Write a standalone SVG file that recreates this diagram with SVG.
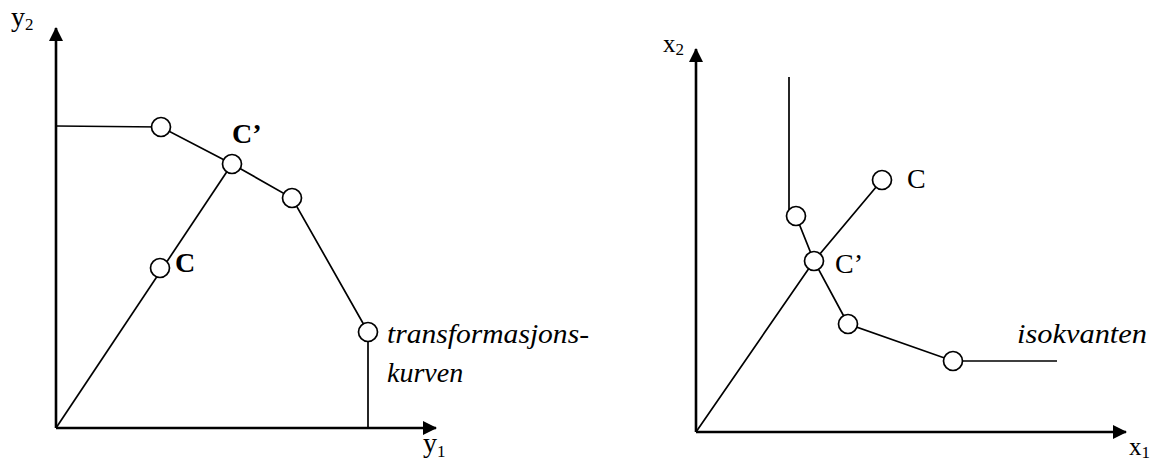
<svg xmlns="http://www.w3.org/2000/svg" width="1162" height="464" viewBox="0 0 1162 464">
<style>
.ax{stroke:#000;stroke-width:2.6;fill:none}
.ln{stroke:#000;stroke-width:1.7;fill:none}
.pt{fill:#fff;stroke:#000;stroke-width:1.7}
.t{font-family:'Liberation Serif','Times New Roman','DejaVu Serif',serif;fill:#000}
.b{font-weight:bold}
.i{font-style:italic}
</style>
<defs>
<marker id="ah" viewBox="0 0 14 14" refX="13" refY="7" markerWidth="14" markerHeight="14" markerUnits="userSpaceOnUse" orient="auto">
<path d="M0,0 L14,7 L0,14 Z" fill="#000"/>
</marker>
</defs>
<g id="axes-left">
<line class="ax" x1="56" y1="428" x2="56" y2="28" marker-end="url(#ah)"/>
<line class="ax" x1="56" y1="428" x2="436" y2="428" marker-end="url(#ah)"/>
<text class="t" font-family="Liberation Serif, serif" x="11" y="26" font-size="28">y<tspan font-size="17" dy="4">2</tspan></text>
<text class="t" font-family="Liberation Serif, serif" x="423" y="452" font-size="28">y<tspan font-size="17" dy="5">1</tspan></text>
</g>
<g id="axes-right">
<line class="ax" x1="696" y1="432" x2="696" y2="49" marker-end="url(#ah)"/>
<line class="ax" x1="696" y1="432" x2="1126" y2="432" marker-end="url(#ah)"/>
<text class="t" font-family="Liberation Serif, serif" x="663" y="52" font-size="25">x<tspan font-size="17" dy="3">2</tspan></text>
<text class="t" font-family="Liberation Serif, serif" x="1129" y="455" font-size="25">x<tspan font-size="17" dy="3">1</tspan></text>
</g>
<g id="connectors">
<polyline class="ln" points="56,126 161,127 232,164 292,198 368,332 368,428"/>
<line class="ln" x1="56" y1="428" x2="232" y2="164"/>
<polyline class="ln" points="789,77 789,210 796,216 814,261 848,324 953,361 1057,361"/>
<polyline class="ln" points="696,432 814,261 882,180"/>
</g>
<g id="node-left-1"><circle class="pt" cx="161" cy="127" r="9.5"/></g>
<g id="node-left-Cp"><circle class="pt" cx="232" cy="164" r="9.5"/>
<text class="t b" font-family="Liberation Serif, serif" x="232" y="143" font-size="28">C’</text></g>
<g id="node-left-3"><circle class="pt" cx="292" cy="198" r="9.5"/></g>
<g id="node-left-4"><circle class="pt" cx="368" cy="332" r="9.5"/>
<text class="t i" font-family="Liberation Serif, serif" x="387" y="343" font-size="28" textLength="202" lengthAdjust="spacingAndGlyphs">transformasjons-</text>
<text class="t i" font-family="Liberation Serif, serif" x="387" y="382" font-size="28">kurven</text></g>
<g id="node-left-C"><circle class="pt" cx="160" cy="268" r="9.5"/>
<text class="t b" font-family="Liberation Serif, serif" x="175" y="272" font-size="28">C</text></g>
<g id="node-right-1"><circle class="pt" cx="796" cy="216" r="9.5"/></g>
<g id="node-right-Cp"><circle class="pt" cx="814" cy="261" r="9.5"/>
<text class="t" font-family="Liberation Serif, serif" x="835" y="273" font-size="28">C’</text></g>
<g id="node-right-C"><circle class="pt" cx="882" cy="180" r="9.5"/>
<text class="t" font-family="Liberation Serif, serif" x="907" y="188" font-size="28">C</text></g>
<g id="node-right-3"><circle class="pt" cx="848" cy="324" r="9.5"/></g>
<g id="node-right-4"><circle class="pt" cx="953" cy="361" r="9.5"/>
<text class="t i" font-family="Liberation Serif, serif" x="1017" y="343" font-size="28" textLength="130" lengthAdjust="spacingAndGlyphs">isokvanten</text></g>
</svg>
